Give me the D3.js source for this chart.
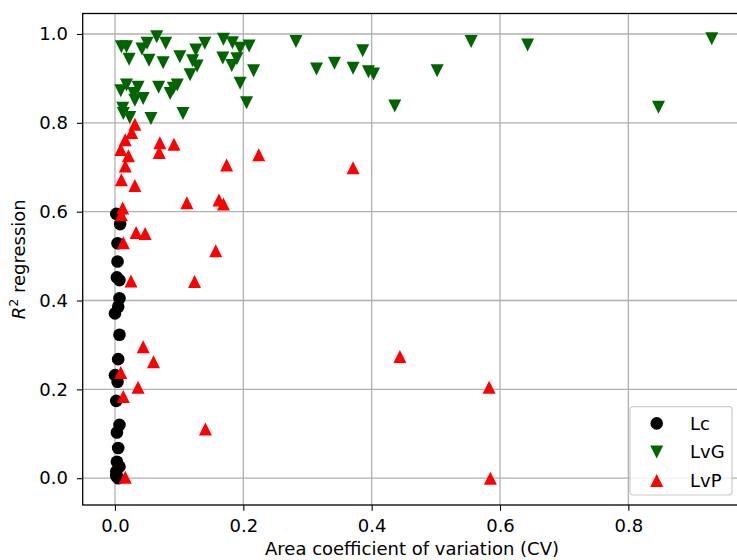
<html>
<head>
<meta charset="UTF-8">
<title>R2 regression vs area CV</title>
<script src="https://d3js.org/d3.v7.min.js"></script>
<style>
  body { margin: 0; background: #fff; }
  svg { display: block; font-family: "DejaVu Sans", sans-serif; }
</style>
</head>
<body>
<div id="chart"></div>
<script>
// data: [CV, R2]
var lc = [
  [0.002, 0.595], [0.008, 0.572], [0.004, 0.529], [0.004, 0.488], [0.003, 0.452],
  [0.007, 0.446], [0.007, 0.405], [0.005, 0.386], [0.000, 0.371], [0.007, 0.323],
  [0.005, 0.268], [0.000, 0.232], [0.004, 0.217], [0.002, 0.174], [0.007, 0.120],
  [0.003, 0.103], [0.005, 0.068], [0.003, 0.037], [0.007, 0.026], [0.002, 0.015],
  [0.002, 0.005], [0.005, 0.000]
];
var lvg = [
  [0.010, 0.971], [0.018, 0.971], [0.022, 0.943], [0.042, 0.966], [0.050, 0.979],
  [0.053, 0.941], [0.065, 0.994], [0.079, 0.979], [0.075, 0.935], [0.101, 0.949],
  [0.121, 0.940], [0.126, 0.964], [0.128, 0.928], [0.117, 0.908], [0.140, 0.979],
  [0.169, 0.988], [0.183, 0.980], [0.168, 0.946], [0.182, 0.929], [0.190, 0.944],
  [0.195, 0.968], [0.209, 0.973], [0.216, 0.917], [0.195, 0.889], [0.205, 0.845],
  [0.282, 0.983], [0.314, 0.921], [0.342, 0.934], [0.371, 0.923], [0.386, 0.962],
  [0.395, 0.915], [0.403, 0.910], [0.009, 0.872], [0.018, 0.885], [0.036, 0.880],
  [0.031, 0.851], [0.044, 0.855], [0.029, 0.866], [0.068, 0.880], [0.086, 0.866],
  [0.097, 0.885], [0.091, 0.878], [0.012, 0.833], [0.013, 0.821], [0.023, 0.812],
  [0.056, 0.810], [0.106, 0.821], [0.555, 0.983], [0.502, 0.917], [0.436, 0.838],
  [0.643, 0.975], [0.930, 0.989], [0.847, 0.835]
];
var lvp = [
  [0.583, 0.205], [0.585, 0.000], [0.444, 0.274], [0.371, 0.699], [0.224, 0.728],
  [0.174, 0.705], [0.070, 0.755], [0.069, 0.733], [0.092, 0.752], [0.031, 0.797],
  [0.026, 0.778], [0.016, 0.762], [0.009, 0.740], [0.021, 0.726], [0.016, 0.703],
  [0.010, 0.672], [0.031, 0.659], [0.112, 0.620], [0.162, 0.626], [0.169, 0.617],
  [0.012, 0.608], [0.010, 0.593], [0.033, 0.553], [0.047, 0.551], [0.013, 0.530],
  [0.157, 0.512], [0.025, 0.444], [0.124, 0.443], [0.044, 0.296], [0.060, 0.262],
  [0.009, 0.238], [0.036, 0.205], [0.013, 0.184], [0.141, 0.111], [0.016, 0.002]
];
var seriesNames = ["Lc", "LvG", "LvP"];
var seriesColors = ["#000000", "#006400", "#ff0000"];
var xTicks = [0.0, 0.2, 0.4, 0.6, 0.8];
var yTicks = [0.0, 0.2, 0.4, 0.6, 0.8, 1.0];

var W = 737, H = 560;
var m = {left: 82.7, top: 13.5, right: 741.3, bottom: 505};
var fs = "18px";

var svg = d3.select("#chart").append("svg")
  .attr("width", W)
  .attr("height", H);

var x = d3.scaleLinear().domain([-0.0503, 0.976]).range([m.left, m.right]);
var y = d3.scaleLinear().domain([-0.0603, 1.0461]).range([m.bottom, m.top]);

// marker shapes like matplotlib's o, v, ^
function marker(kind, h) {
  if (kind == 0) return d3.symbol().type(d3.symbolCircle).size(Math.PI * h * h)();
  if (kind == 1) return "M0," + h + "L" + (-h) + "," + (-h) + "L" + h + "," + (-h) + "Z";
  return "M0," + (-h) + "L" + (-h) + "," + h + "L" + h + "," + h + "Z";
}

svg.append("defs").append("clipPath").attr("id", "clip")
  .append("rect")
  .attr("x", m.left).attr("y", m.top)
  .attr("width", m.right - m.left).attr("height", m.bottom - m.top);

// grid
var grid = svg.append("g");
grid.selectAll(".gx").data(xTicks).enter().append("line")
  .attr("x1", d => x(d)).attr("x2", d => x(d))
  .attr("y1", m.top).attr("y2", m.bottom)
  .attr("stroke", "#b0b0b0").attr("stroke-width", 1.3);
grid.selectAll(".gy").data(yTicks).enter().append("line")
  .attr("x1", m.left).attr("x2", m.right)
  .attr("y1", d => y(d)).attr("y2", d => y(d))
  .attr("stroke", "#b0b0b0").attr("stroke-width", 1.3);

// points
var plot = svg.append("g").attr("clip-path", "url(#clip)");
[lc, lvg, lvp].forEach(function(data, i) {
  plot.selectAll(".s" + i).data(data).enter().append("path")
    .attr("d", marker(i, i == 0 ? 6.3 : 6.5))
    .attr("transform", d => "translate(" + x(d[0]) + "," + y(d[1]) + ")")
    .attr("fill", seriesColors[i]);
});

// axes
var xAxis = d3.axisBottom(x).tickValues(xTicks).tickFormat(d3.format(".1f")).tickSize(5.8).tickPadding(8.5);
var yAxis = d3.axisLeft(y).tickValues(yTicks).tickFormat(d3.format(".1f")).tickSize(5.8).tickPadding(8.9);

var gx = svg.append("g")
  .attr("transform", "translate(0," + m.bottom + ")")
  .call(xAxis);
var gy = svg.append("g")
  .attr("transform", "translate(" + m.left + ",0)")
  .call(yAxis);

[gx, gy].forEach(function(g) {
  g.select(".domain").remove();
  g.selectAll("line").attr("stroke", "#000").attr("stroke-width", 1.1);
  g.selectAll("text").attr("font-size", fs).attr("fill", "#000")
    .style("font-family", "DejaVu Sans");
});

// spines
svg.append("rect")
  .attr("x", m.left).attr("y", m.top)
  .attr("width", m.right - m.left).attr("height", m.bottom - m.top)
  .attr("fill", "none").attr("stroke", "#000").attr("stroke-width", 1.3);

// axis labels
svg.append("text")
  .attr("x", (m.left + m.right) / 2).attr("y", 555)
  .attr("text-anchor", "middle")
  .attr("font-size", fs)
  .text("Area coefficient of variation (CV)");

var yl = svg.append("text")
  .attr("transform", "translate(25," + ((m.top + m.bottom) / 2) + ") rotate(-90)")
  .attr("text-anchor", "middle")
  .attr("font-size", fs);
yl.append("tspan").attr("font-style", "italic").text("R");
yl.append("tspan").attr("dy", -7).attr("font-size", "12.6px").text("2");
yl.append("tspan").attr("dy", 7).text(" regression");

// legend
var lg = svg.append("g").attr("transform", "translate(630,406.7)");
lg.append("rect")
  .attr("width", 102).attr("height", 88.3)
  .attr("rx", 3).attr("ry", 3)
  .attr("fill", "#fff").attr("fill-opacity", 0.8)
  .attr("stroke", "#cccccc").attr("stroke-width", 1.2);
seriesNames.forEach(function(name, i) {
  var row = lg.append("g").attr("transform", "translate(0," + (16.7 + i * 28.5) + ")");
  row.append("path")
    .attr("d", marker(i, i == 0 ? 6.3 : 6.5))
    .attr("transform", "translate(26.7,0)")
    .attr("fill", seriesColors[i]);
  row.append("text")
    .attr("x", 60).attr("dy", "0.36em")
    .attr("font-size", fs)
    .text(name);
});
</script>
</body>
</html>
